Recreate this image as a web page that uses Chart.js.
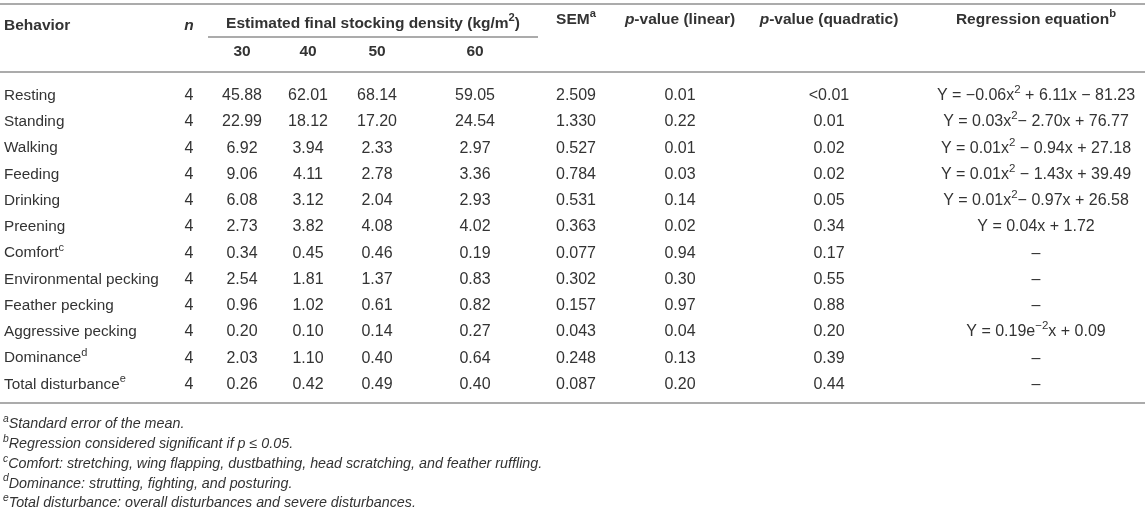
<!DOCTYPE html>
<html><head><meta charset="utf-8">
<script src="https://cdn.jsdelivr.net/npm/chart.js@4.4.1/dist/chart.umd.min.js"></script>
<style>html,body{margin:0;padding:0;background:#fff}#wrap{width:1145px;height:512px}</style>
</head><body><div id="wrap"><canvas id="c" width="1145" height="512"></canvas></div>
<script>
// ---------- data ----------
const behaviors = ["Resting","Standing","Walking","Feeding","Drinking","Preening","Comfort^{c}","Environmental pecking","Feather pecking","Aggressive pecking","Dominance^{d}","Total disturbance^{e}"];
const nValues = [4,4,4,4,4,4,4,4,4,4,4,4];
const densityLabels = ["30","40","50","60"];
const density30 = [45.88,22.99,6.92,9.06,6.08,2.73,0.34,2.54,0.96,0.20,2.03,0.26];
const density40 = [62.01,18.12,3.94,4.11,3.12,3.82,0.45,1.81,1.02,0.10,1.10,0.42];
const density50 = [68.14,17.20,2.33,2.78,2.04,4.08,0.46,1.37,0.61,0.14,0.40,0.49];
const density60 = [59.05,24.54,2.97,3.36,2.93,4.02,0.19,0.83,0.82,0.27,0.64,0.40];
const semValues = [2.509,1.330,0.527,0.784,0.531,0.363,0.077,0.302,0.157,0.043,0.248,0.087];
const pLinear = ["0.01","0.22","0.01","0.03","0.14","0.02","0.94","0.30","0.97","0.04","0.13","0.20"];
const pQuadratic = ["<0.01","0.01","0.02","0.02","0.05","0.34","0.17","0.55","0.88","0.20","0.39","0.44"];
const regression = [
  "Y = \u22120.06x^{2} + 6.11x \u2212 81.23",
  "Y = 0.03x^{2}\u2212 2.70x + 76.77",
  "Y = 0.01x^{2} \u2212 0.94x + 27.18",
  "Y = 0.01x^{2} \u2212 1.43x + 39.49",
  "Y = 0.01x^{2}\u2212 0.97x + 26.58",
  "Y = 0.04x + 1.72",
  "\u2013","\u2013","\u2013",
  "Y = 0.19e^{\u22122}x + 0.09",
  "\u2013","\u2013"
];
const headerTitles = {
  behavior: "Behavior", n: "*n*",
  density: "Estimated final stocking density (kg/m^{2})",
  sem: "SEM^{a}", pLin: "*p*-value (linear)", pQuad: "*p*-value (quadratic)",
  reg: "Regression equation^{b}"
};
const footnotes = [
  "^{*a*}*Standard error of the mean.*",
  "^{*b*}*Regression considered significant if p \u2264 0.05.*",
  "^{*c*}*Comfort: stretching, wing flapping, dustbathing, head scratching, and feather ruffling.*",
  "^{*d*}*Dominance: strutting, fighting, and posturing.*",
  "^{*e*}*Total disturbance: overall disturbances and severe disturbances.*"
];

// ---------- layout (pixels / styles) ----------
const L = {
  font: '"Liberation Sans", Arial, Helvetica, sans-serif',
  nameSize: 15.3, numSize: 16, headSize: 15.5, footSize: 14.3,
  color: '#333333', rule: '#ababab', dy: 1.5,
  col: { behavior: 4, n: 189, d30: 242, d40: 308, d50: 377, d60: 475, sem: 576, pLin: 680, pQuad: 829, reg: 1036 },
  headY: 24, headYRight: 18, subY: 50, groupLine: {x0: 208, x1: 538, y: 37},
  topRule: 4, headRule: 72, bottomRule: 403,
  footX: 3, footY0: 423, footDY: 19.7
};

function parseRich(str) {
  const segs = []; let i = 0; let italic = false; let buf = '';
  const push = (t, sup, it) => { if (t) segs.push({t, italic: it, sup}); };
  while (i < str.length) {
    const ch = str[i];
    if (ch === '*') { push(buf, false, italic); buf = ''; italic = !italic; i++; continue; }
    if (ch === '^' && str[i+1] === '{') {
      push(buf, false, italic); buf = '';
      const end = str.indexOf('}', i);
      let inner = str.slice(i+2, end), it = italic;
      if (inner.startsWith('*') && inner.endsWith('*')) { inner = inner.slice(1, -1); it = true; }
      push(inner, true, it);
      i = end + 1; continue;
    }
    buf += ch; i++;
  }
  push(buf, false, italic);
  return segs;
}
function fontFor(seg, size, bold) {
  const s = seg.sup ? size * 0.72 : size;
  return (seg.italic ? 'italic ' : '') + (bold ? 'bold ' : '') + s.toFixed(1) + 'px ' + L.font;
}
function drawRich(ctx, str, x, y, align, size, bold) {
  const segs = parseRich(str);
  let w = 0;
  segs.forEach(s => { ctx.font = fontFor(s, size, bold); s.w = ctx.measureText(s.t).width; w += s.w; });
  let cx = align === 'center' ? x - w / 2 : (align === 'right' ? x - w : x);
  ctx.textAlign = 'left'; ctx.textBaseline = 'middle';
  const yy = y + L.dy;
  segs.forEach(s => {
    ctx.font = fontFor(s, size, bold);
    ctx.fillText(s.t, cx, s.sup ? yy - size * 0.36 : yy);
    cx += s.w;
  });
}

const tablePlugin = {
  id: 'tableText',
  afterDraw(chart) {
    const ctx = chart.ctx, xs = chart.scales.x, ys = chart.scales.y;
    const X = k => xs.getPixelForValue(L.col[k]);
    ctx.save();
    ctx.strokeStyle = L.rule; ctx.lineWidth = 1.8;
    const hline = (x0, x1, y) => { ctx.beginPath(); ctx.moveTo(xs.getPixelForValue(x0), y); ctx.lineTo(xs.getPixelForValue(x1), y); ctx.stroke(); };
    hline(0, 1145, L.topRule);
    hline(0, 1145, L.headRule);
    hline(0, 1145, L.bottomRule);
    hline(L.groupLine.x0, L.groupLine.x1, L.groupLine.y);
    ctx.fillStyle = L.color;
    const H = L.headSize;
    drawRich(ctx, headerTitles.behavior, X('behavior'), L.headY, 'left', H, true);
    drawRich(ctx, headerTitles.n, X('n'), L.headY, 'center', H, true);
    drawRich(ctx, headerTitles.density, (xs.getPixelForValue(L.groupLine.x0) + xs.getPixelForValue(L.groupLine.x1)) / 2, L.headY - 2, 'center', H, true);
    ['d30','d40','d50','d60'].forEach((k, j) => drawRich(ctx, densityLabels[j], X(k), L.subY, 'center', H, true));
    drawRich(ctx, headerTitles.sem, X('sem'), L.headYRight, 'center', H, true);
    drawRich(ctx, headerTitles.pLin, X('pLin'), L.headYRight, 'center', H, true);
    drawRich(ctx, headerTitles.pQuad, X('pQuad'), L.headYRight, 'center', H, true);
    drawRich(ctx, headerTitles.reg, X('reg'), L.headYRight, 'center', H, true);
    const N = L.numSize;
    behaviors.forEach((b, i) => {
      const y = ys.getPixelForValue(i);
      drawRich(ctx, b, X('behavior'), y, 'left', L.nameSize, false);
      drawRich(ctx, String(nValues[i]), X('n'), y, 'center', N, false);
      drawRich(ctx, density30[i].toFixed(2), X('d30'), y, 'center', N, false);
      drawRich(ctx, density40[i].toFixed(2), X('d40'), y, 'center', N, false);
      drawRich(ctx, density50[i].toFixed(2), X('d50'), y, 'center', N, false);
      drawRich(ctx, density60[i].toFixed(2), X('d60'), y, 'center', N, false);
      drawRich(ctx, semValues[i].toFixed(3), X('sem'), y, 'center', N, false);
      drawRich(ctx, pLinear[i], X('pLin'), y, 'center', N, false);
      drawRich(ctx, pQuadratic[i], X('pQuad'), y, 'center', N, false);
      drawRich(ctx, regression[i], X('reg'), y, 'center', N, false);
    });
    footnotes.forEach((f, i) => drawRich(ctx, f, L.footX, L.footY0 + i * L.footDY, 'left', L.footSize, false));
    ctx.restore();
  }
};

new Chart(document.getElementById('c'), {
  type: 'scatter',
  data: { labels: behaviors, datasets: [{ data: [], pointRadius: 0 }] },
  options: {
    responsive: false, animation: false, devicePixelRatio: 1,
    layout: { padding: { top: 81, bottom: 116, left: 0, right: 0 } },
    plugins: { legend: { display: false }, tooltip: { enabled: false } },
    scales: {
      x: { type: 'linear', min: 0, max: 1145, display: false },
      y: { type: 'category', labels: behaviors, offset: true, display: false }
    }
  },
  plugins: [tablePlugin]
});
</script></body></html>
